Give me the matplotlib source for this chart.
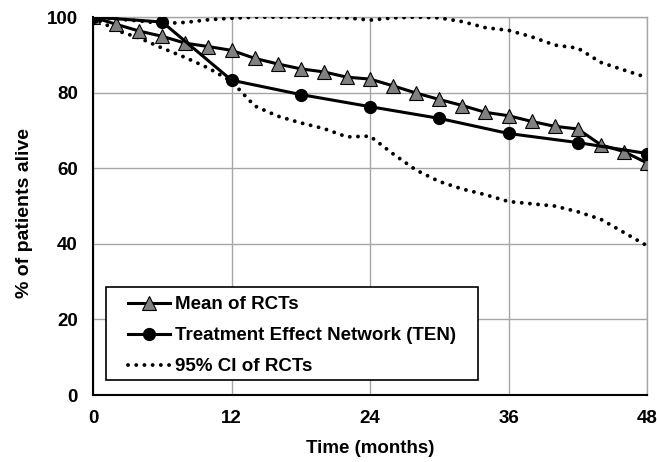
import numpy as np
import matplotlib
matplotlib.use('Agg')
import matplotlib.pyplot as plt
from matplotlib.patches import Rectangle

plt.rcParams['font.family'] = ['Liberation Sans', 'DejaVu Sans']
plt.rcParams['font.weight'] = 'bold'

# months for RCT mean / CI (every 2 months)
months_rct = [0, 2, 4, 6, 8, 10, 12, 14, 16, 18, 20, 22, 24,
              26, 28, 30, 32, 34, 36, 38, 40, 42, 44, 46, 48]
mean_rct = [100, 98.1, 96.3, 94.9, 93.1, 92.2, 91.2, 89.1, 87.6, 86.3, 85.5, 84.1, 83.6,
            81.8, 79.9, 78.2, 76.6, 74.8, 73.9, 72.4, 71.1, 70.4, 66.2, 64.4, 61.4]
ci_upper = [100, 99.5, 99.0, 98.3, 98.6, 99.3, 99.7, 100, 100, 100, 100, 99.8, 99.2,
            99.8, 100, 99.8, 98.8, 97.2, 96.5, 94.8, 92.6, 91.8, 88.0, 86.0, 84.0]
ci_lower = [100, 96.5, 94.5, 91.8, 89.3, 86.5, 83.0, 76.5, 73.8, 72.0, 70.5, 68.3, 68.5,
            63.8, 59.5, 56.5, 54.5, 53.0, 51.2, 50.6, 50.0, 48.5, 46.5, 43.0, 39.5]

# Treatment Effect Network (every 6 months)
months_ten = [0, 6, 12, 18, 24, 30, 36, 42, 48]
ten = [100, 98.7, 83.3, 79.5, 76.3, 73.2, 69.2, 66.8, 63.9]

fs = 13.5
fig = plt.figure(figsize=(6.57, 4.62), dpi=100)
ax = fig.add_axes([0.1416, 0.145, 0.8432, 0.818])

grid_c = '#a6a6a6'
dot = (0, (0.01, 2.1))

ax.plot(months_rct, mean_rct, color='black', lw=2.2, marker='^', ms=10,
        mfc='#808080', mec='black', mew=0.8, label='Mean of RCTs', zorder=4)
ax.plot(months_ten, ten, color='black', lw=2.2, marker='o', ms=8.5,
        mfc='black', mec='black', label='Treatment Effect Network (TEN)', zorder=5)
ax.plot(months_rct, ci_upper, color='black', lw=2.8, linestyle=dot,
        dash_capstyle='round', label='95% CI of RCTs', zorder=3)
ax.plot(months_rct, ci_lower, color='black', lw=2.8, linestyle=dot,
        dash_capstyle='round', zorder=3)

ax.set_xlim(0, 48)
ax.set_ylim(0, 100)
ax.set_xticks([0, 12, 24, 36, 48])
ax.set_yticks([0, 20, 40, 60, 80, 100])
ax.grid(True, color=grid_c, lw=1)
ax.set_axisbelow(True)
ax.tick_params(length=0, labelsize=fs, pad=11)
for lab in ax.get_xticklabels() + ax.get_yticklabels():
    lab.set_fontweight('bold')

for s in ['top', 'right']:
    ax.spines[s].set_color(grid_c)
    ax.spines[s].set_linewidth(1)
for s in ['left', 'bottom']:
    ax.spines[s].set_color('black')
    ax.spines[s].set_linewidth(1.5)
    ax.spines[s].set_zorder(6)

ax.set_xlabel('Time (months)', fontsize=fs, fontweight='bold', labelpad=9)
ax.set_ylabel('% of patients alive', fontsize=14, fontweight='bold')
ax.yaxis.set_label_coords(-0.108, 0.481)

# legend box drawn separately so the inner padding matches
box = Rectangle((0.0235, 0.0397), 0.6715, 0.246, transform=ax.transAxes,
                facecolor='white', edgecolor='black', lw=1.2, zorder=7)
ax.add_patch(box)
leg = ax.legend(loc='upper left', bbox_to_anchor=(0.0632, 0.262),
                borderaxespad=0, borderpad=0, frameon=False, fontsize=fs,
                handlelength=2.24, labelspacing=0.74, handletextpad=0.27)
leg.set_zorder(8)
for t in leg.get_texts():
    t.set_fontweight('bold')

plt.savefig('out.png', dpi=100)
